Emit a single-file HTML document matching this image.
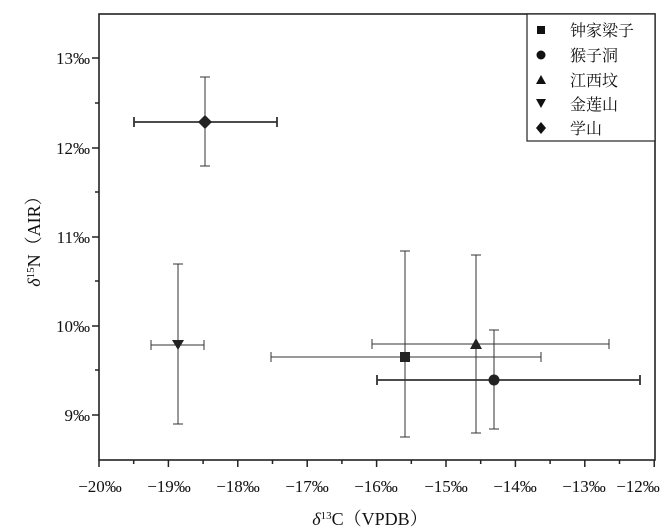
<!DOCTYPE html>
<html><head><meta charset="utf-8"><style>body{margin:0;background:#fff}svg{display:block}</style></head><body>
<svg width="672" height="532" xmlns="http://www.w3.org/2000/svg" font-family="Liberation Serif, DejaVu Serif, Noto Serif CJK SC, serif">
<rect width="672" height="532" fill="#fff"/>
<g stroke="#222" stroke-width="1.6" fill="none">
<rect x="99" y="14" width="556" height="446"/>
</g>
<g stroke="#222" stroke-width="1.5">
<line x1="99" y1="460" x2="99" y2="467"/><line x1="168.4" y1="460" x2="168.4" y2="467"/><line x1="237.8" y1="460" x2="237.8" y2="467"/><line x1="307.2" y1="460" x2="307.2" y2="467"/><line x1="376.6" y1="460" x2="376.6" y2="467"/><line x1="446" y1="460" x2="446" y2="467"/><line x1="515.4" y1="460" x2="515.4" y2="467"/><line x1="584.8" y1="460" x2="584.8" y2="467"/><line x1="654.2" y1="460" x2="654.2" y2="467"/>
<line x1="133.7" y1="460" x2="133.7" y2="464"/><line x1="203.1" y1="460" x2="203.1" y2="464"/><line x1="272.5" y1="460" x2="272.5" y2="464"/><line x1="341.9" y1="460" x2="341.9" y2="464"/><line x1="411.3" y1="460" x2="411.3" y2="464"/><line x1="480.7" y1="460" x2="480.7" y2="464"/><line x1="550.1" y1="460" x2="550.1" y2="464"/><line x1="619.5" y1="460" x2="619.5" y2="464"/>
<line x1="92" y1="58" x2="99" y2="58"/><line x1="92" y1="148" x2="99" y2="148"/><line x1="92" y1="237" x2="99" y2="237"/><line x1="92" y1="326" x2="99" y2="326"/><line x1="92" y1="415" x2="99" y2="415"/>
<line x1="95" y1="103" x2="99" y2="103"/><line x1="95" y1="192" x2="99" y2="192"/><line x1="95" y1="281" x2="99" y2="281"/><line x1="95" y1="370" x2="99" y2="370"/>
</g>
<g font-size="17" fill="#111" text-anchor="end">
<text x="90" y="64">13‰</text><text x="90" y="154">12‰</text><text x="90" y="243">11‰</text><text x="90" y="332">10‰</text><text x="90" y="421">9‰</text>
</g>
<g font-size="17" fill="#111" text-anchor="middle">
<text x="100" y="492">−20‰</text><text x="169" y="492">−19‰</text><text x="238" y="492">−18‰</text><text x="307" y="492">−17‰</text><text x="376" y="492">−16‰</text><text x="446" y="492">−15‰</text><text x="515" y="492">−14‰</text><text x="584" y="492">−13‰</text><text x="638" y="492">−12‰</text>
</g>
<text x="370" y="525" font-size="18" text-anchor="middle" fill="#111"><tspan font-style="italic">δ</tspan><tspan font-size="11" dy="-6">13</tspan><tspan dy="6">C（VPDB）</tspan></text>
<text transform="translate(40,237) rotate(-90)" font-size="18" text-anchor="middle" fill="#111"><tspan font-style="italic">δ</tspan><tspan font-size="11" dy="-6">15</tspan><tspan dy="6">N（AIR）</tspan></text>
<g stroke="#333" fill="none">
<g stroke-width="1"><line x1="205" y1="77" x2="205" y2="166"/><line x1="200" y1="77" x2="210" y2="77"/><line x1="200" y1="166" x2="210" y2="166"/></g>
<g stroke-width="1.8"><line x1="134" y1="122" x2="277" y2="122"/><line x1="134" y1="117" x2="134" y2="127"/><line x1="277" y1="117" x2="277" y2="127"/></g>
<g stroke-width="1"><line x1="178" y1="264" x2="178" y2="424"/><line x1="173" y1="264" x2="183" y2="264"/><line x1="173" y1="424" x2="183" y2="424"/>
<line x1="151" y1="345" x2="204" y2="345"/><line x1="151" y1="340" x2="151" y2="350"/><line x1="204" y1="340" x2="204" y2="350"/></g>
<g stroke-width="1"><line x1="405" y1="251" x2="405" y2="437"/><line x1="400" y1="251" x2="410" y2="251"/><line x1="400" y1="437" x2="410" y2="437"/>
<line x1="271" y1="357" x2="541" y2="357"/><line x1="271" y1="352" x2="271" y2="362"/><line x1="541" y1="352" x2="541" y2="362"/></g>
<g stroke-width="1"><line x1="476" y1="255" x2="476" y2="433"/><line x1="471" y1="255" x2="481" y2="255"/><line x1="471" y1="433" x2="481" y2="433"/>
<line x1="372" y1="344" x2="609" y2="344"/><line x1="372" y1="339" x2="372" y2="349"/><line x1="609" y1="339" x2="609" y2="349"/></g>
<g stroke-width="1"><line x1="494" y1="330" x2="494" y2="429"/><line x1="489" y1="330" x2="499" y2="330"/><line x1="489" y1="429" x2="499" y2="429"/></g>
<g stroke-width="1.8"><line x1="377" y1="380" x2="640" y2="380"/><line x1="377" y1="375" x2="377" y2="385"/><line x1="640" y1="375" x2="640" y2="385"/></g>
</g>
<g fill="#222">
<polygon points="205,115 212,122 205,129 198,122"/>
<polygon points="172,340 184,340 178,350"/>
<rect x="400" y="352" width="10" height="10"/>
<polygon points="476,338 482,349 470,349"/>
<circle cx="494" cy="380" r="5.5"/>
</g>
<rect x="527" y="14" width="128" height="127" fill="#fff" stroke="#222" stroke-width="1.2"/>
<g fill="#111">
<rect x="537" y="26" width="8" height="8"/>
<circle cx="541" cy="55" r="4.5"/>
<polygon points="541,75 546,84 536,84"/>
<polygon points="536,99 546,99 541,108"/>
<polygon points="541,122 546,128 541,134 536,128"/>
</g>
<g font-size="16" fill="#111" font-family="Noto Serif CJK SC, serif">
<text x="570" y="36">钟家梁子</text><text x="570" y="61">猴子洞</text><text x="570" y="86">江西坟</text><text x="570" y="110">金莲山</text><text x="570" y="134">学山</text>
</g>
</svg>
</body></html>
